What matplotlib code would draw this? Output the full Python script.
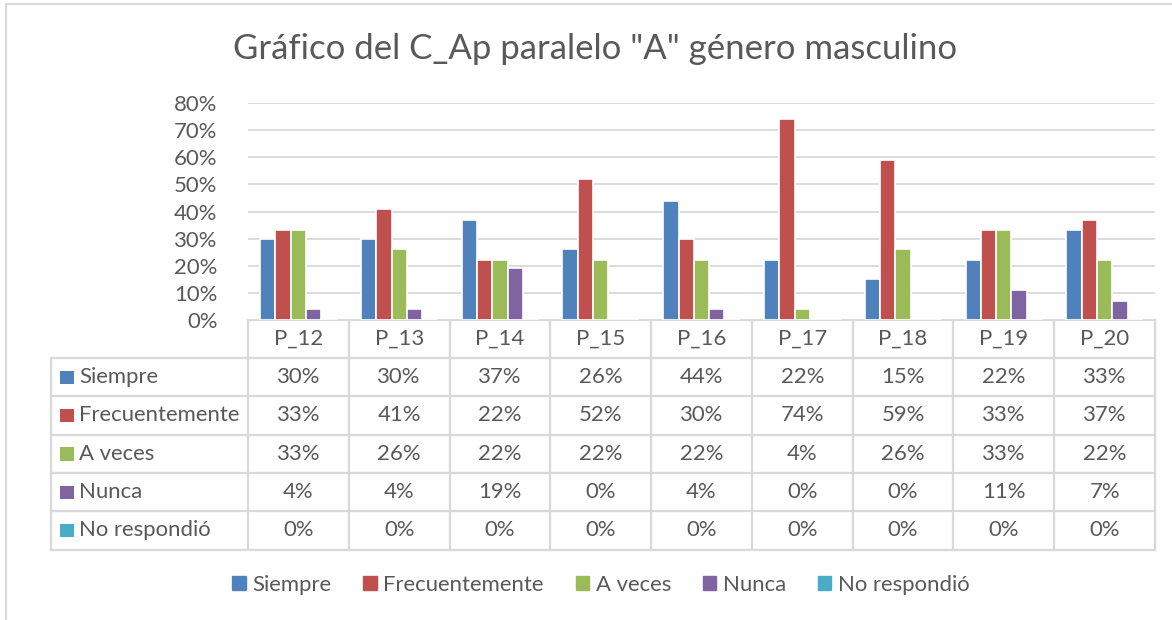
#!/usr/bin/env python3
"""Excel-style clustered bar chart with data table (C_Ap, paralelo A, masculino)."""
import numpy as np
import matplotlib
matplotlib.use("Agg")
import matplotlib.pyplot as plt
import matplotlib.patches as mpatches

# --- data -----------------------------------------------------------------
categories = ["P_12", "P_13", "P_14", "P_15", "P_16", "P_17", "P_18", "P_19", "P_20"]
series_names = ["Siempre", "Frecuentemente", "A veces", "Nunca", "No respondió"]
siempre = [0.30, 0.30, 0.37, 0.26, 0.44, 0.22, 0.15, 0.22, 0.33]
frecuentemente = [0.33, 0.41, 0.22, 0.52, 0.30, 0.74, 0.59, 0.33, 0.37]
a_veces = [0.33, 0.26, 0.22, 0.22, 0.22, 0.04, 0.26, 0.33, 0.22]
nunca = [0.04, 0.04, 0.19, 0.00, 0.04, 0.00, 0.00, 0.11, 0.07]
no_respondio = [0.00, 0.00, 0.00, 0.00, 0.00, 0.00, 0.00, 0.00, 0.00]
yticks = [0.0, 0.1, 0.2, 0.3, 0.4, 0.5, 0.6, 0.7, 0.8]
title = 'Gráfico del C_Ap paralelo "A" género masculino'

colors = ["#4F81BD", "#C0504D", "#9BBB59", "#8064A2", "#4BACC6"]
TEXT = "#595959"
GRID = "#D9D9D9"

plt.rcParams["font.family"] = ["Lato", "DejaVu Sans"]

# layout in pixels (figure is 1172 x 620)
W, H = 1172, 620
PLOT_L, PLOT_R, PLOT_T, PLOT_B = 248, 1155, 103, 320
HEAD_B = 358
ROW_H = 38.3
TABLE_L = 51
FS = 15.9

fig = plt.figure(figsize=(W / 100, H / 100), dpi=100)

ax = fig.add_axes([PLOT_L / W, 1 - PLOT_B / H, (PLOT_R - PLOT_L) / W, (PLOT_B - PLOT_T) / H])
all_series = [siempre, frecuentemente, a_veces, nunca, no_respondio]
x = np.arange(len(categories))
pitch = 0.152
for i, (vals, name, col) in enumerate(zip(all_series, series_names, colors)):
    ax.bar(x + (i - 2) * pitch, vals, width=pitch, color=col,
           edgecolor="white", linewidth=1.2, label=name, zorder=3)

ax.set_xlim(-0.5, len(categories) - 0.5)
ax.set_ylim(0, 0.8)
ax.set_yticks(yticks)
ax.set_yticklabels([f"{v:.0%}" for v in yticks], color=TEXT, fontsize=FS)
ax.tick_params(axis="y", length=0, pad=22)
ax.set_xticks([])
ax.grid(axis="y", color=GRID, linewidth=1.3, zorder=0)
for s in ax.spines.values():
    s.set_visible(False)

# overlay in pixel coordinates for the data table and frame
ov = fig.add_axes([0, 0, 1, 1], zorder=-1)
ov.set_xlim(0, W)
ov.set_ylim(H, 0)
ov.axis("off")
ov.patch.set_alpha(0)

# chart frame (only top and left edges visible in the crop)
ov.plot([6, W], [4, 4], color=GRID, lw=1.5)
ov.plot([6, 6], [4, H], color=GRID, lw=1.5)

col_w = (PLOT_R - PLOT_L) / len(categories)
col_edges = [PLOT_L + k * col_w for k in range(len(categories) + 1)]
n_rows = len(series_names)
table_b = HEAD_B + n_rows * ROW_H
lw_tab = 1.6

# horizontal lines
ov.plot([PLOT_L, PLOT_R], [PLOT_B, PLOT_B], color=GRID, lw=lw_tab, zorder=2)
for r in range(n_rows + 1):
    yy = HEAD_B + r * ROW_H
    ov.plot([TABLE_L, PLOT_R], [yy, yy], color=GRID, lw=lw_tab)
# vertical lines
for xe in col_edges:
    ov.plot([xe, xe], [PLOT_B, table_b], color=GRID, lw=lw_tab)
ov.plot([TABLE_L, TABLE_L], [HEAD_B, table_b], color=GRID, lw=lw_tab)

# header labels
for k, cat in enumerate(categories):
    ov.text(col_edges[k] + col_w / 2, (PLOT_B + HEAD_B) / 2, cat,
            ha="center", va="center", fontsize=FS, color=TEXT)

# rows
for r, (vals, name, col) in enumerate(zip(all_series, series_names, colors)):
    yc = HEAD_B + (r + 0.5) * ROW_H
    ov.add_patch(mpatches.Rectangle((60, yc - 6.5), 13.5, 13.5, color=col, lw=0))
    ov.text(79, yc, name, ha="left", va="center", fontsize=FS, color=TEXT)
    for k, v in enumerate(vals):
        ov.text(col_edges[k] + col_w / 2, yc, f"{v:.0%}",
                ha="center", va="center", fontsize=FS, color=TEXT)

fig.text(595 / W, 1 - 49 / H, title, ha="center", va="center",
         fontsize=25, color=TEXT)

handles = [mpatches.Patch(color=c, label=n) for c, n in zip(colors, series_names)]
fig.legend(handles=handles, loc="center", bbox_to_anchor=(601 / W, 1 - 585 / H),
           ncol=5, frameon=False, fontsize=FS, labelcolor=TEXT,
           handlelength=0.6, handleheight=0.6, handletextpad=0.3,
           columnspacing=1.45)

fig.savefig("out.png", dpi=100)
